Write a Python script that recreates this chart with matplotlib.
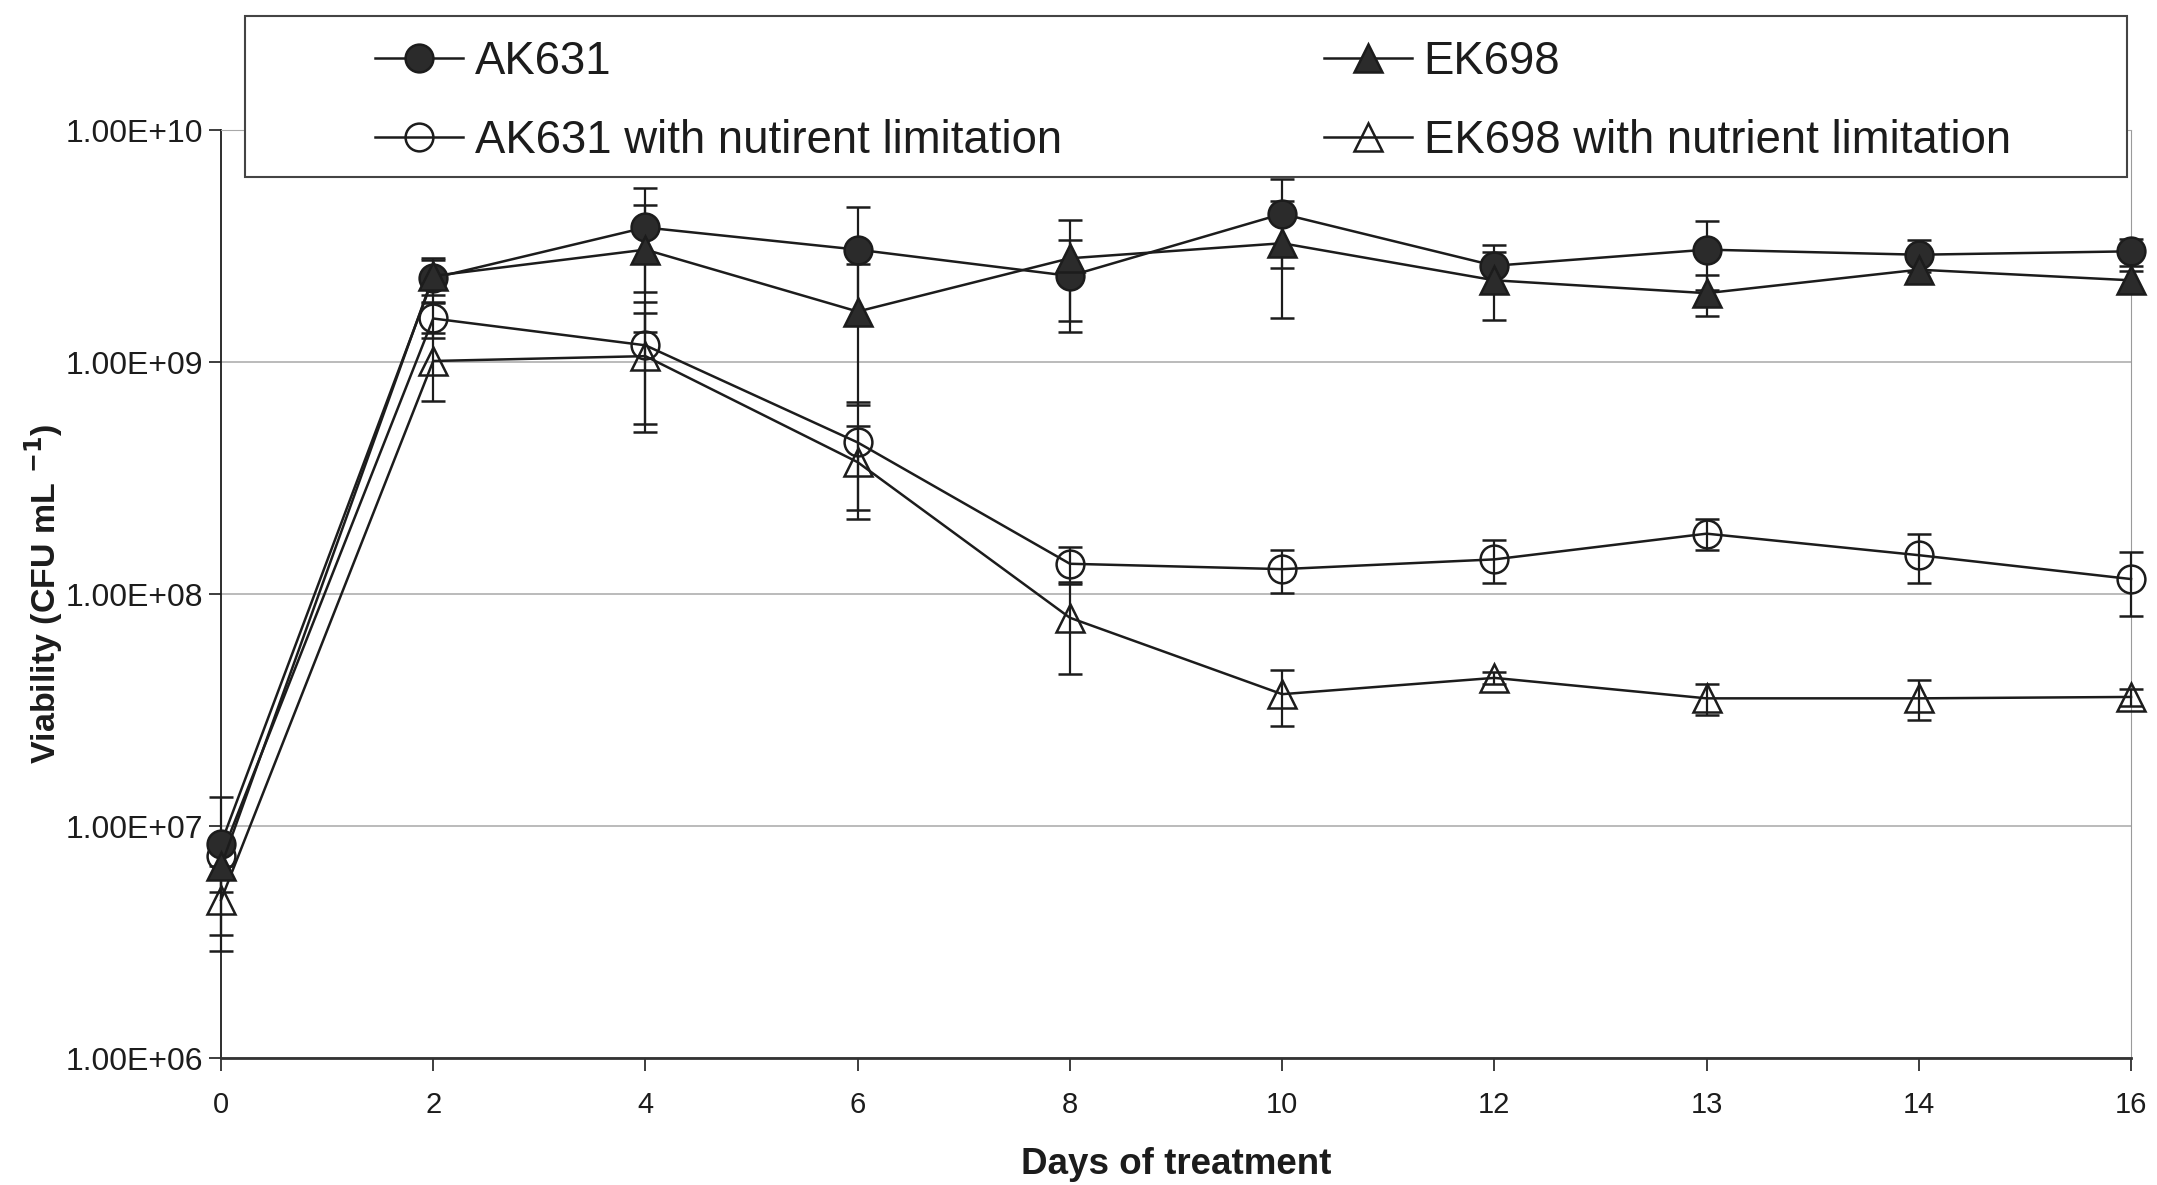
import matplotlib
matplotlib.use("Agg")
import matplotlib.pyplot as plt
from matplotlib.lines import Line2D
from matplotlib.patches import Rectangle

plt.rcParams['font.family'] = ['Liberation Sans', 'DejaVu Sans']

# sampling days (plotted as evenly spaced categories)
days = ['0', '2', '4', '6', '8', '10', '12', '13', '14', '16']

# viable counts, CFU/mL
ak631 = [8.4e6, 2.3e9, 3.8e9, 3.05e9, 2.35e9, 4.35e9, 2.6e9, 3.05e9, 2.9e9, 3.0e9]
ak631_err = [5.0e6, 0.5e9, 1.8e9, 1.6e9, 1.0e9, 1.8e9, 0.6e9, 1.0e9, 0.45e9, 0.4e9]
ek698 = [6.7e6, 2.35e9, 3.05e9, 1.65e9, 2.8e9, 3.25e9, 2.25e9, 1.98e9, 2.5e9, 2.25e9]
ek698_err = [1.5e6, 0.4e9, 1.7e9, 1.0e9, 1.3e9, 1.7e9, 0.73e9, 0.4e9, 0.3e9, 0.22e9]
ak631_nl = [7.4e6, 1.54e9, 1.18e9, 4.5e8, 1.35e8, 1.28e8, 1.41e8, 1.82e8, 1.47e8, 1.16e8]
ak631_nl_err = [1.5e6, 0.27e9, 0.64e9, 2.2e8, 0.25e8, 0.27e8, 0.3e8, 0.28e8, 0.35e8, 0.36e8]
ek698_nl = [4.8e6, 1.01e9, 1.06e9, 3.7e8, 7.9e7, 3.7e7, 4.35e7, 3.55e7, 3.55e7, 3.6e7]
ek698_nl_err = [1.9e6, 0.33e9, 0.56e9, 1.6e8, 3.4e7, 1.0e7, 0.25e7, 0.55e7, 0.7e7, 0.3e7]

ytick_vals = [1e6, 1e7, 1e8, 1e9, 1e10]
ytick_labels = ['1.00E+06', '1.00E+07', '1.00E+08', '1.00E+09', '1.00E+10']

fig = plt.figure(figsize=(21.57, 11.85), dpi=100)
ax = fig.add_axes([221 / 2157, 1 - 1058 / 1185, (2131 - 221) / 2157, (1058 - 130) / 1185])

x = list(range(len(days)))
ink = '#1c1c1c'
common = dict(color=ink, lw=1.8, ms=20, mew=1.8, capsize=8.5, capthick=1.8,
              elinewidth=1.6, clip_on=False)

ax.errorbar(x, ak631, yerr=ak631_err, fmt='-o', mfc='#2b2b2b', zorder=4, **common)
ax.errorbar(x, ek698, yerr=ek698_err, fmt='-^', mfc='#2b2b2b', zorder=4, **common)
ax.errorbar(x, ak631_nl, yerr=ak631_nl_err, fmt='-o', mfc='none', zorder=3, **common)
ax.errorbar(x, ek698_nl, yerr=ek698_nl_err, fmt='-^', mfc='none', zorder=3, **common)

ax.set_yscale('log')
ax.set_ylim(1e6, 1e10)
ax.set_xlim(0, len(days) - 1)
ax.set_yticks(ytick_vals)
ax.set_yticklabels(ytick_labels)
ax.yaxis.set_minor_locator(matplotlib.ticker.NullLocator())
ax.set_xticks(x)
ax.set_xticklabels(days)

ax.grid(axis='y', color='#a8a8a8', lw=1.1)
ax.set_axisbelow(True)
ax.tick_params(axis='y', direction='out', length=9, width=1.2, pad=4, labelsize=23, colors=ink)
ax.tick_params(axis='x', direction='out', length=9, width=1.2, pad=15, labelsize=21, colors=ink)

ax.spines['left'].set_color(ink)
ax.spines['left'].set_linewidth(1.3)
ax.spines['bottom'].set_color('#333333')
ax.spines['bottom'].set_linewidth(2)
ax.spines['right'].set_color('#9a9a9a')
ax.spines['right'].set_linestyle((0, (1, 1)))
ax.spines['top'].set_color('#a8a8a8')

ax.set_xlabel('Days of treatment', fontsize=26.5, fontweight='bold', color=ink)
ax.xaxis.label.set_va('center')
ax.xaxis.set_label_coords(0.5, -0.115)
ax.set_ylabel(r'Viability (CFU mL $^{\mathbf{-1}}$)', fontsize=24.5, fontweight='bold', color=ink)
ax.yaxis.label.set_va('center')
ax.yaxis.set_label_coords(-0.093, 0.5)

# legend box sits across the top edge of the plot area
fig.add_artist(Rectangle((245 / 2157, 1 - 177 / 1185), (2127 - 245) / 2157, (177 - 16) / 1185,
                         transform=fig.transFigure, facecolor='white', edgecolor='#444444', lw=1.5))

handles = [
    Line2D([], [], color=ink, lw=1.8, marker='o', ms=20, mew=1.8, mfc='#2b2b2b'),
    Line2D([], [], color=ink, lw=1.8, marker='o', ms=20, mew=1.8, mfc='none'),
    Line2D([], [], color=ink, lw=1.8, marker='^', ms=20, mew=1.8, mfc='#2b2b2b'),
    Line2D([], [], color=ink, lw=1.8, marker='^', ms=20, mew=1.8, mfc='none'),
]
labels = ['AK631', 'AK631 with nutirent limitation', 'EK698', 'EK698 with nutrient limitation']
fig.legend(handles, labels, ncol=2, loc='upper left', bbox_to_anchor=(375 / 2157, 1 - 40 / 1185),
           frameon=False, fontsize=32.8, borderpad=0, borderaxespad=0, handlelength=1.93,
           handletextpad=0.26, columnspacing=5.75, labelspacing=0.77, labelcolor=ink)

fig.savefig('out.png', dpi=100)
